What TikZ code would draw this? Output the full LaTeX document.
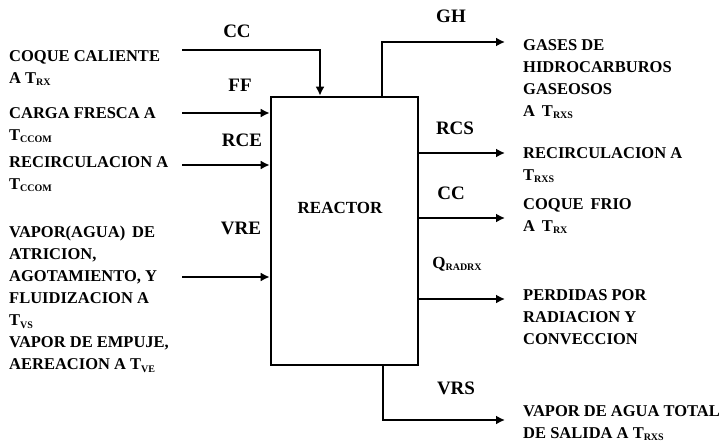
\documentclass[tikz,border=0pt]{standalone}
\usepackage{fontspec}
\setmainfont{Liberation Serif}[BoldFont={Liberation Serif Bold}]
\usetikzlibrary{arrows.meta,positioning,calc}
\newcommand{\lowsub}[1]{\raisebox{-2.5pt}{\fontsize{10}{10}\selectfont #1}}

\begin{document}
\begin{tikzpicture}[
    x=1pt, y=-1pt,
    reactorbox/.style={rectangle, draw, line width=2.6pt, minimum width=147pt, minimum height=268pt, inner sep=0pt},
    flow/.style={font=\rmfamily\fontsize{19}{19}\selectfont\bfseries, inner sep=0pt},
    desc/.style={font=\rmfamily\fontsize{16.5}{22}\selectfont\bfseries, align=left, anchor=north west, inner sep=0pt},
    arrow/.style={-{Latex[length=9pt,width=9pt]}, line width=2.6pt}
]
    \useasboundingbox (0,0) rectangle (728,444);

    % reactor
    \node[reactorbox] (reactor) at (344.5,231) {};
    \node[flow, font=\rmfamily\fontsize{17}{17}\selectfont\bfseries] (rtitle) at (340,208) {REACTOR};

    % inputs
    \coordinate (ccin) at (182,50);
    \coordinate (ffin) at (182,113);
    \coordinate (rcein) at (182,165);
    \coordinate (vrein) at (182,277);
    \draw[arrow] (ccin) -| ([xshift=-24.5pt]reactor.north);
    \draw[arrow] (ffin) -- (reactor.west |- ffin);
    \draw[arrow] (rcein) -- (reactor.west |- rcein);
    \draw[arrow] (vrein) -- (reactor.west |- vrein);

    \node[flow] (cclbl) at (237,31) {CC};
    \node[flow] (fflbl) at (240,85) {FF};
    \node[flow] (rcelbl) at (242,140) {RCE};
    \node[flow] (vrelbl) at (241,228) {VRE};

    \node[desc] (cctxt) at (9,50) {COQUE CALIENTE\\ A T\lowsub{RX}};
    \node[desc] (fftxt) at (9,107) {CARGA FRESCA A\\T\lowsub{CCOM}};
    \node[desc] (rcetxt) at (9,156) {RECIRCULACION A\\T\lowsub{CCOM}};
    \node[desc] (vretxt) at (9,226) {VAPOR(AGUA)\, DE\\ATRICION,\\AGOTAMIENTO, Y\\FLUIDIZACION A\\T\lowsub{VS}\\VAPOR DE EMPUJE,\\AEREACION A T\lowsub{VE}};

    % outputs
    \coordinate (ghout) at (505,42);
    \coordinate (rcsout) at (505,153);
    \coordinate (ccout) at (505,218);
    \coordinate (qout) at (505,299);
    \coordinate (vrsout) at (505,420);
    \draw[arrow] ([xshift=37.5pt]reactor.north) |- (ghout);
    \draw[arrow] (reactor.east |- rcsout) -- (rcsout);
    \draw[arrow] (reactor.east |- ccout) -- (ccout);
    \draw[arrow] (reactor.east |- qout) -- (qout);
    \draw[arrow] ([xshift=38.5pt]reactor.south) |- (vrsout);

    \node[flow] (ghlbl) at (451,16) {GH};
    \node[flow] (rcslbl) at (455,128) {RCS};
    \node[flow] (ccoutlbl) at (451,193) {CC};
    \node[flow, font=\rmfamily\fontsize{17}{17}\selectfont\bfseries] (qlbl) at (457,264) {Q\lowsub{RADRX}};
    \node[flow] (vrslbl) at (456,388) {VRS};

    \node[desc] (ghtxt) at (523,39) {GASES DE\\HIDROCARBUROS\\GASEOSOS\\A\, T\lowsub{RXS}};
    \node[desc] (rcstxt) at (523,147) {RECIRCULACION A\\T\lowsub{RXS}};
    \node[desc] (cctxt2) at (523,198) {COQUE\, FRIO\\A\, T\lowsub{RX}};
    \node[desc] (qtxt) at (523,289) {PERDIDAS POR\\RADIACION Y\\CONVECCION};
    \node[desc] (vrstxt) at (523,405) {VAPOR DE AGUA TOTAL\\DE SALIDA A T\lowsub{RXS}};
\end{tikzpicture}
\end{document}
